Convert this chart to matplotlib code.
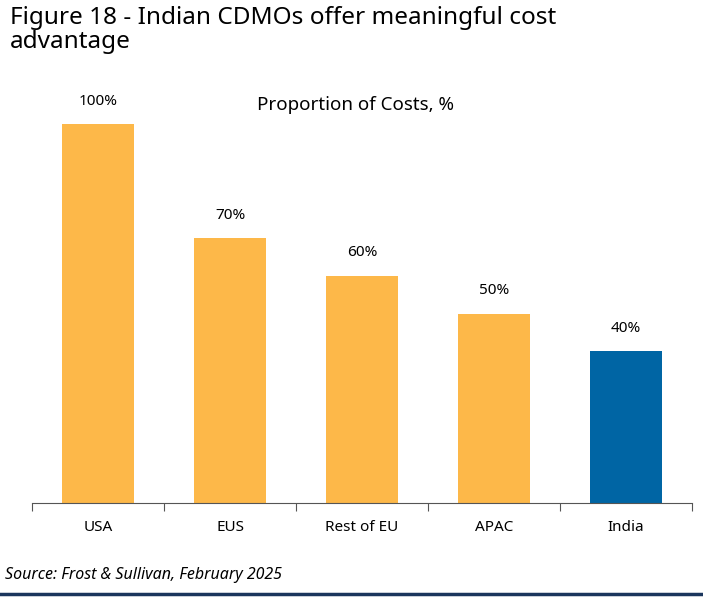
import matplotlib
matplotlib.use("Agg")
import matplotlib.pyplot as plt
from matplotlib.lines import Line2D

categories = ["USA", "EUS", "Rest of EU", "APAC", "India"]
values = [100, 70, 60, 50, 40]
colors = ["#FDB849", "#FDB849", "#FDB849", "#FDB849", "#0065A4"]

fig = plt.figure(figsize=(7.03, 5.98), dpi=100)
plt.rcParams['font.family'] = ['Noto Sans', 'DejaVu Sans']
ax = fig.add_axes([32/703, 1-503/598, 660/703, 0.697])
x = range(len(categories))
ax.bar(x, values, width=0.55, color=colors)
for i, v in zip(x, values):
    ax.text(i, v + 4, f"{v}%", ha="center", va="bottom", fontsize=11)
ax.set_xlim(-0.5, len(categories) - 0.5)
ax.set_ylim(0, 110)
ax.set_yticks([])
for s in ["top", "right", "left"]:
    ax.spines[s].set_visible(False)
ax.spines["bottom"].set_color("#555555")
ax.set_xticks([i - 0.5 for i in range(len(categories) + 1)], minor=False)
ax.set_xticklabels([])
ax.tick_params(axis="x", direction="out", length=6, color="#555555")
ax.set_xticks(list(x), minor=True)
ax.set_xticklabels(categories, minor=True, fontsize=11)
ax.tick_params(axis="x", which="minor", length=0, pad=12)
ax.text(0.49, 0.955, "Proportion of Costs, %", transform=ax.transAxes, ha="center", va="center", fontsize=13.5)

fig.text(10/703, 1-6/598, "Figure 18 - Indian CDMOs offer meaningful cost\nadvantage",
         ha="left", va="top", fontsize=17.5, fontweight="bold", linespacing=1.0)
fig.text(5/703, 1-575/598, "Source: Frost & Sullivan, February 2025", ha="left", va="center",
         fontsize=11.5, style="italic")
fig.add_artist(Line2D([0, 1], [1-594/598]*2, color="#1B365D", lw=2.5, transform=fig.transFigure))
fig.savefig("out.png", dpi=100)
